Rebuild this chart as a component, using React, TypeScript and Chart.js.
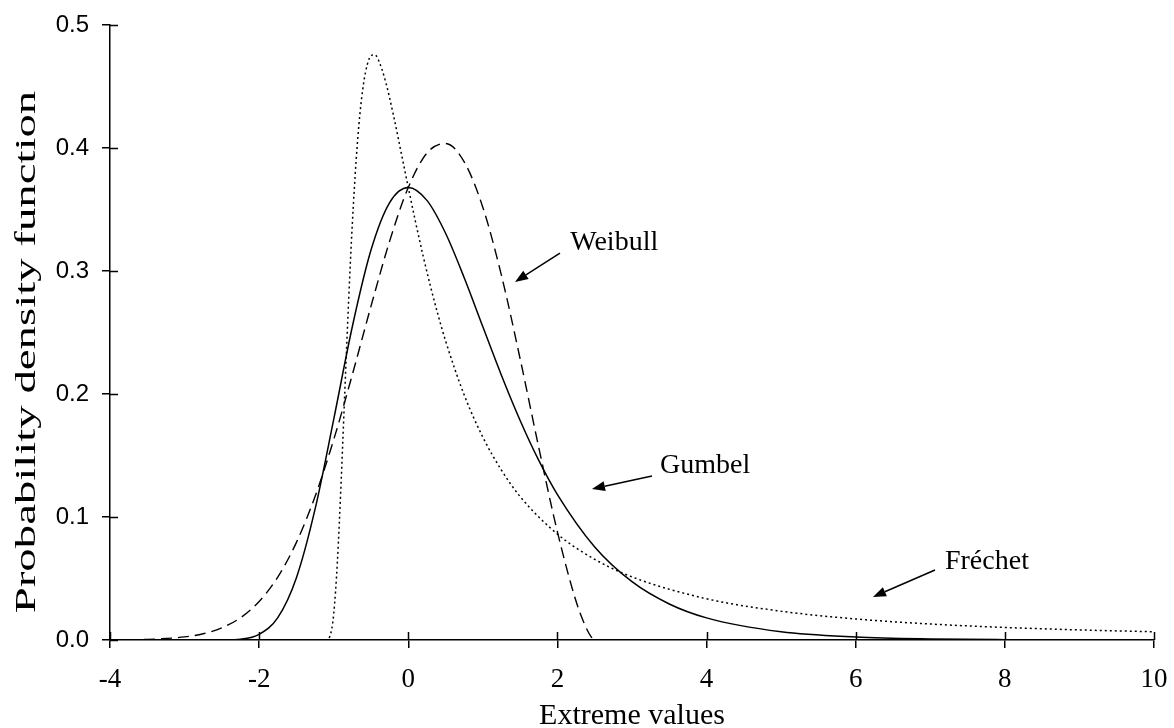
import React, { useEffect, useRef } from "react";
import { Chart, registerables } from "chart.js";

Chart.register(...registerables);

// ---- Data ----
const gumbelX = [-4, -3, -2.75, -2.5, -2.25, -2, -1.75, -1.5, -1.25, -1, -0.75, -0.5, -0.25, 0, 0.25, 0.5, 0.75, 1, 1.25, 1.5, 1.75, 2, 2.5, 3, 3.5, 4, 5, 6, 7, 8, 9, 10];
const gumbelY = [0, 0, 0, 0.0001, 0.0007, 0.0046, 0.0182, 0.0507, 0.1064, 0.1794, 0.2549, 0.317, 0.3556, 0.3679, 0.3574, 0.3307, 0.2945, 0.2546, 0.2151, 0.1785, 0.146, 0.1182, 0.0756, 0.0474, 0.0293, 0.018, 0.0067, 0.0025, 0.0009, 0.0003, 0.0001, 0];

const weibullX = [-4, -3.5, -3, -2.75, -2.5, -2.25, -2, -1.75, -1.5, -1.25, -1, -0.75, -0.5, -0.25, 0, 0.25, 0.5, 0.75, 1, 1.25, 1.5, 1.75, 2, 2.25, 2.375, 2.45, 2.5, 3, 10];
const weibullY = [0.0001, 0.0005, 0.0025, 0.0051, 0.0099, 0.0181, 0.0313, 0.0512, 0.0794, 0.1167, 0.1629, 0.2158, 0.2714, 0.3243, 0.3679, 0.3959, 0.4037, 0.3887, 0.3517, 0.2963, 0.2286, 0.1564, 0.0879, 0.0315, 0.0112, 0.0028, 0, 0, 0];

const frechetX = [-4, -1.2, -1.15, -1.1, -1.05, -1, -0.95, -0.9, -0.85, -0.8, -0.75, -0.7, -0.65, -0.6, -0.55, -0.5, -0.45, -0.4, -0.3, -0.2, -0.1, 0, 0.1, 0.2, 0.3, 0.4, 0.5, 0.75, 1, 1.25, 1.5, 2, 2.5, 3, 4, 5, 6, 7, 8, 9, 10];
const frechetY = [0, 0, 0, 0.0001, 0.0032, 0.0212, 0.0644, 0.1293, 0.2036, 0.276, 0.3389, 0.3893, 0.4268, 0.4524, 0.4678, 0.475, 0.4758, 0.4715, 0.453, 0.4269, 0.3976, 0.3679, 0.3391, 0.312, 0.287, 0.2641, 0.2432, 0.1992, 0.1649, 0.138, 0.1166, 0.0861, 0.0656, 0.0513, 0.0335, 0.0234, 0.0171, 0.013, 0.0102, 0.0082, 0.0067];

const xTickValues = [-4, -2, 0, 2, 4, 6, 8, 10];
const xTickLabels = ["-4", "-2", "0", "2", "4", "6", "8", "10"];
const yTickValues = [0, 0.1, 0.2, 0.3, 0.4, 0.5];
const yTickLabels = ["0.0", "0.1", "0.2", "0.3", "0.4", "0.5"];

const xAxisTitle = "Extreme values";
const yAxisTitle = "Probability density function";

// annotation labels and their anchor points (data units)
const noteLabels = ["Weibull", "Gumbel", "Fréchet"];
const noteTextX = [2.172, 3.375, 7.197];
const noteTextY = [0.3228, 0.1415, 0.0634];
const noteTailX = [2.034, 3.268, 7.063];
const noteTailY = [0.3146, 0.1333, 0.0569];
const noteHeadX = [1.431, 2.463, 6.231];
const noteHeadY = [0.2911, 0.1228, 0.035];

const SERIF = '"Liberation Serif", "Times New Roman", serif';
const SANS = '"Liberation Sans", Arial, sans-serif';

const innerTicks = {
  id: "innerTicks",
  afterDraw(chart: any) {
    const { ctx, chartArea, scales } = chart;
    ctx.save();
    ctx.strokeStyle = "#000";
    ctx.lineWidth = 1.5;
    ctx.beginPath();
    xTickValues.forEach((v) => {
      const px = Math.round(scales.x.getPixelForValue(v)) + 0.5;
      ctx.moveTo(px, chartArea.bottom);
      ctx.lineTo(px, chartArea.bottom - 8);
    });
    yTickValues.forEach((v) => {
      const py = Math.round(scales.y.getPixelForValue(v)) + 0.5;
      ctx.moveTo(chartArea.left, py);
      ctx.lineTo(chartArea.left + 8, py);
    });
    ctx.stroke();
    ctx.restore();
  },
};

// vertical axis title, drawn stretched along its length as in the reference
const yTitle = {
  id: "yTitle",
  afterDraw(chart: any) {
    const { ctx } = chart;
    ctx.save();
    ctx.fillStyle = "#000";
    ctx.font = `30px ${SERIF}`;
    ctx.textAlign = "center";
    ctx.textBaseline = "middle";
    ctx.translate(27, 352);
    ctx.rotate(-Math.PI / 2);
    ctx.scale(1.56, 1);
    ctx.fillText(yAxisTitle, 0, 0);
    ctx.restore();
  },
};

const notes = {
  id: "notes",
  afterDraw(chart: any) {
    const { ctx, scales } = chart;
    const xs = scales.x;
    const ys = scales.y;
    ctx.save();
    ctx.fillStyle = "#000";
    ctx.strokeStyle = "#000";
    ctx.lineWidth = 1.5;
    ctx.font = `28px ${SERIF}`;
    ctx.textAlign = "left";
    ctx.textBaseline = "middle";
    noteLabels.forEach((label, i) => {
      ctx.fillText(label, xs.getPixelForValue(noteTextX[i]), ys.getPixelForValue(noteTextY[i]));
      const x1 = xs.getPixelForValue(noteTailX[i]);
      const y1 = ys.getPixelForValue(noteTailY[i]);
      const x2 = xs.getPixelForValue(noteHeadX[i]);
      const y2 = ys.getPixelForValue(noteHeadY[i]);
      const ang = Math.atan2(y2 - y1, x2 - x1);
      const headLen = 13;
      const headW = 5;
      const bx = x2 - headLen * Math.cos(ang);
      const by = y2 - headLen * Math.sin(ang);
      ctx.beginPath();
      ctx.moveTo(x1, y1);
      ctx.lineTo(bx, by);
      ctx.stroke();
      ctx.beginPath();
      ctx.moveTo(x2, y2);
      ctx.lineTo(bx + headW * Math.sin(ang), by - headW * Math.cos(ang));
      ctx.lineTo(bx - headW * Math.sin(ang), by + headW * Math.cos(ang));
      ctx.closePath();
      ctx.fill();
    });
    ctx.restore();
  },
};

const toPoints = (xs: number[], ys: number[]) => xs.map((x, i) => ({ x, y: ys[i] }));

export default function App() {
  const ref = useRef<HTMLCanvasElement>(null);

  useEffect(() => {
    document.body.style.margin = "0";
    const canvas = ref.current;
    if (!canvas) return;
    const lineBase = {
      showLine: true,
      borderColor: "#000",
      backgroundColor: "#000",
      pointRadius: 0,
      pointHoverRadius: 0,
      fill: false,
      cubicInterpolationMode: "monotone" as const,
    };
    const chart = new Chart(canvas, {
      type: "scatter",
      data: {
        datasets: [
          { ...lineBase, label: "Gumbel", data: toPoints(gumbelX, gumbelY), borderWidth: 1.5 },
          { ...lineBase, label: "Weibull", data: toPoints(weibullX, weibullY), borderWidth: 1.4, borderDash: [11, 6] },
          { ...lineBase, label: "Fréchet", data: toPoints(frechetX, frechetY), borderWidth: 1.5, borderDash: [2, 3] },
        ],
      },
      options: {
        responsive: false,
        animation: false,
        devicePixelRatio: 1,
        events: [],
        layout: { padding: { left: 0, right: 20, top: 25, bottom: 0 } },
        plugins: { legend: { display: false }, tooltip: { enabled: false } },
        scales: {
          x: {
            type: "linear",
            min: -4,
            max: 10,
            afterFit: (s: any) => {
              s.height = 88;
              s.paddingLeft = 0;
              s.paddingRight = 0;
            },
            afterBuildTicks: (s: any) => {
              s.ticks = xTickValues.map((v) => ({ value: v }));
            },
            ticks: {
              autoSkip: false,
              maxRotation: 0,
              padding: 16,
              color: "#000",
              font: { family: SERIF, size: 27 },
              callback: (v: any) => xTickLabels[xTickValues.indexOf(Number(v))],
            },
            grid: { display: true, drawOnChartArea: false, drawTicks: true, tickLength: 8, color: "#000", lineWidth: 1.5 },
            border: { display: true, color: "#000", width: 1.5 },
            title: {
              display: true,
              text: xAxisTitle,
              color: "#000",
              font: { family: SERIF, size: 30, lineHeight: 0.8 },
              padding: { top: 0, bottom: 0 },
            },
          },
          y: {
            type: "linear",
            min: 0,
            max: 0.5,
            afterFit: (s: any) => {
              s.width = 110;
              s.paddingTop = 0;
              s.paddingBottom = 0;
            },
            afterBuildTicks: (s: any) => {
              s.ticks = yTickValues.map((v) => ({ value: v }));
            },
            ticks: {
              autoSkip: false,
              padding: 13,
              color: "#000",
              font: { family: SANS, size: 24 },
              callback: (v: any) => {
                const idx = yTickValues.findIndex((t) => Math.abs(t - Number(v)) < 1e-9);
                return yTickLabels[idx];
              },
            },
            grid: { display: true, drawOnChartArea: false, drawTicks: true, tickLength: 8, color: "#000", lineWidth: 1.5 },
            border: { display: true, color: "#000", width: 1.5 },
            title: { display: false },
          },
        },
      },
      plugins: [innerTicks, yTitle, notes],
    });
    return () => chart.destroy();
  }, []);

  return <canvas ref={ref} width={1174} height={728} style={{ display: "block" }} />;
}
